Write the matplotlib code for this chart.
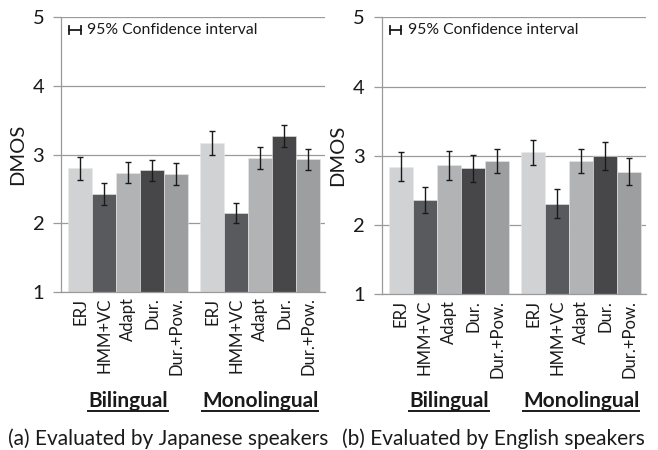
import numpy as np
import matplotlib
matplotlib.use("Agg")
import matplotlib.pyplot as plt
from matplotlib.lines import Line2D

plt.rcParams["font.family"] = ["Lato", "DejaVu Sans"]

SYSTEMS = ["ERJ", "HMM+VC", "Adapt", "Dur.", "Dur.+Pow."]
GROUPS = ["Bilingual", "Monolingual"]
COLORS = ["#d1d2d4", "#595a5e", "#b2b3b5", "#47474a", "#9d9ea0"]

# (a) Japanese listeners
JP_BI = [2.80, 2.43, 2.74, 2.77, 2.72]
JP_BI_CI = [0.17, 0.16, 0.155, 0.15, 0.155]
JP_MONO = [3.17, 2.15, 2.95, 3.27, 2.93]
JP_MONO_CI = [0.18, 0.15, 0.165, 0.155, 0.15]

# (b) English listeners
EN_BI = [2.84, 2.36, 2.86, 2.82, 2.93]
EN_BI_CI = [0.21, 0.185, 0.21, 0.195, 0.175]
EN_MONO = [3.05, 2.31, 2.93, 3.00, 2.77]
EN_MONO_CI = [0.18, 0.21, 0.175, 0.205, 0.195]

GRID = "#9a9a9a"
TXT = "#1a1a1a"


def draw_panel(ax, bi, bi_ci, mono, mono_ci):
    vals = bi + mono
    cis = bi_ci + mono_ci
    x = np.concatenate([np.arange(5), np.arange(5) + 5.5])
    cols = COLORS + COLORS
    ax.bar(x, np.array(vals) - 1, bottom=1, width=1.0, color=cols,
           edgecolor="#e8e8e8", linewidth=0.4, zorder=2)
    ax.errorbar(x, vals, yerr=cis, fmt="none", ecolor="#1a1a1a",
                elinewidth=1.0, capsize=2.5, capthick=1.0, zorder=3)
    ax.set_ylim(1, 5)
    ax.set_xlim(-0.8, 10.2)
    ax.set_yticks([1, 2, 3, 4, 5])
    ax.yaxis.grid(True, color=GRID, linewidth=0.9, zorder=0)
    ax.set_axisbelow(True)
    ax.set_xticks(x)
    ax.set_xticklabels(SYSTEMS + SYSTEMS, rotation=90, fontsize=12,
                       color=TXT)
    ax.tick_params(axis="x", length=0, pad=4)
    ax.tick_params(axis="y", length=6, width=0.9, color=GRID, pad=6,
                   labelsize=14.5, labelcolor=TXT)
    for s in ["top", "right"]:
        ax.spines[s].set_visible(False)
    ax.spines["left"].set_color(GRID)
    ax.spines["bottom"].set_color(GRID)
    ax.spines["left"].set_linewidth(0.9)
    ax.spines["bottom"].set_linewidth(0.9)
    ax.set_ylabel("DMOS", fontsize=14.5, color=TXT, labelpad=5)

    # legend glyph for the confidence interval
    ax.add_line(Line2D([0.03, 0.075], [0.955, 0.955], transform=ax.transAxes,
                       color="#1a1a1a", linewidth=1.3))
    for xx in (0.03, 0.075):
        ax.add_line(Line2D([xx, xx], [0.94, 0.97], transform=ax.transAxes,
                           color="#1a1a1a", linewidth=1.3))
    ax.text(0.10, 0.955, "95% Confidence interval", transform=ax.transAxes,
            fontsize=11.3, va="center", ha="left", color=TXT)


fig = plt.figure(figsize=(6.58, 4.5), dpi=100)
ax1 = fig.add_axes([0.0927, 0.351, 0.401, 0.6106])
ax2 = fig.add_axes([0.580, 0.346, 0.402, 0.6156])
draw_panel(ax1, JP_BI, JP_BI_CI, JP_MONO, JP_MONO_CI)
draw_panel(ax2, EN_BI, EN_BI_CI, EN_MONO, EN_MONO_CI)

fig.canvas.draw()
renderer = fig.canvas.get_renderer()


def group_label(ax, gx, text):
    xf = fig.transFigure.inverted().transform(ax.transData.transform((gx, 1)))[0]
    t = fig.text(xf, 1 - 401 / 450, text, fontsize=15, fontweight="bold",
                 ha="center", va="center", color=TXT)
    bb = t.get_window_extent(renderer).transformed(fig.transFigure.inverted())
    fig.add_artist(Line2D([bb.x0, bb.x1], [1 - 411 / 450, 1 - 411 / 450],
                          transform=fig.transFigure, color=TXT,
                          linewidth=1.4))


for ax in (ax1, ax2):
    group_label(ax, 2.0, GROUPS[0])
    group_label(ax, 7.5, GROUPS[1])

fig.text(168 / 658, 1 - 439 / 450, "(a) Evaluated by Japanese speakers",
         fontsize=15, ha="center", va="center", color=TXT)
fig.text(493 / 658, 1 - 439 / 450, "(b) Evaluated by English speakers",
         fontsize=15, ha="center", va="center", color=TXT)

fig.savefig("out.png", dpi=100)
